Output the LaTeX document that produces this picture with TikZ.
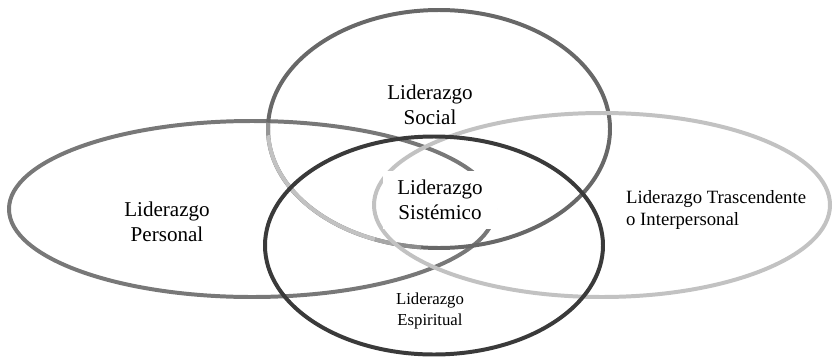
\documentclass[tikz,border=0pt]{standalone}
\usepackage{fontspec}
\setmainfont{Liberation Serif}
\definecolor{ringmid}{HTML}{787878}
\definecolor{ringtop}{HTML}{686868}
\definecolor{ringlight}{HTML}{C2C2C2}
\definecolor{ringdark}{HTML}{3A3A3A}

\begin{document}
\begin{tikzpicture}[x=0.03cm,y=-0.03cm,
        ring/.style={line width=3.4pt},
        lbl/.style={align=center,font=\fontsize{18}{21.5}\selectfont}]
    \useasboundingbox (0,0) rectangle (833,359);
    % the four circles of leadership
    \draw[ring,ringmid] (252,209) ellipse (243 and 88);
    \draw[ring,ringtop] (439,129) ellipse (171 and 119);
    % lighter lower left part of the social circle
    \foreach \s/\e/\c in {183/177/ringtop!50!ringlight, 177/112/ringlight,
            112/104/ringlight!70!ringtop, 104/96/ringlight!40!ringtop}
        \draw[ring,\c] (439,129) ++(\s:171 and 119)
            arc[start angle=\s, end angle=\e, x radius=171, y radius=119];
    \draw[ring,ringlight] (602,205) ellipse (228 and 92);
    \draw[ring,ringdark] (434,245.5) ellipse (169 and 109);
    % labels
    \node[lbl] (personal) at (167,222) {Liderazgo\\Personal};
    \node[lbl] (social) at (430,105) {Liderazgo\\Social};
    \node[lbl,fill=white,minimum width=3.42cm,minimum height=1.75cm] (sistemico) at (440,200) {Liderazgo\\Sistémico};
    \node[lbl,font=\fontsize{14.3}{17.5}\selectfont] (espiritual) at (430,311) {Liderazgo\\Espiritual};
    \node[lbl,align=left,anchor=west,font=\fontsize{16}{19.5}\selectfont] (trascendente) at (622,210) {Liderazgo Trascendente\\o Interpersonal};
\end{tikzpicture}
\end{document}
